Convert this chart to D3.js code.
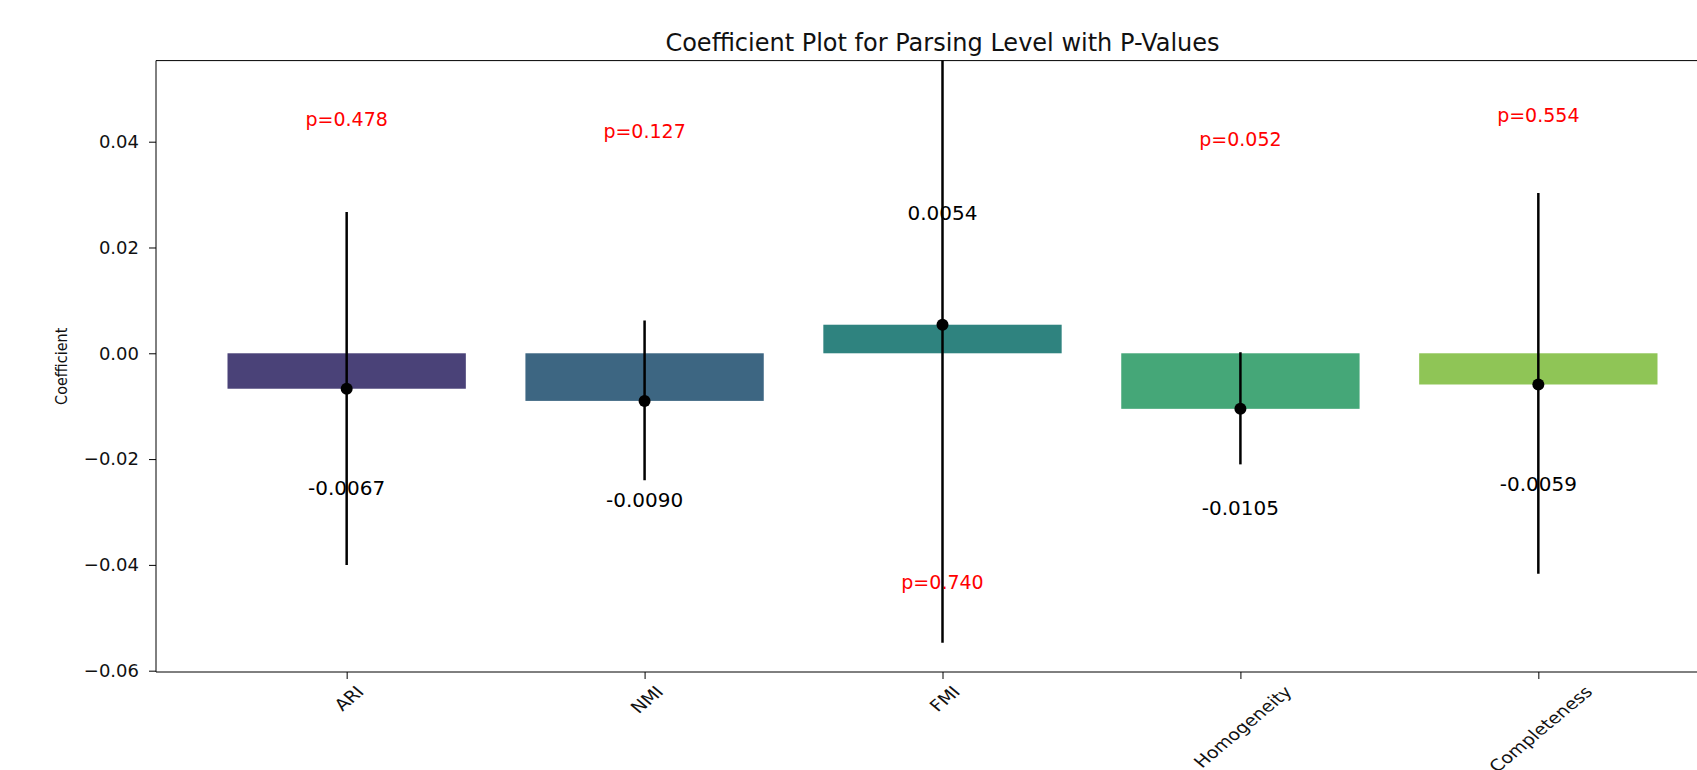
<!DOCTYPE html>
<html>
<head>
<meta charset="utf-8">
<script src="https://cdn.jsdelivr.net/npm/d3@7"></script>
<style>
  body { margin: 0; background: #fff; }
  text { font-family: "DejaVu Sans", sans-serif; }
</style>
</head>
<body>
<div id="chart"></div>
<script>
// values
var metrics = ["ARI", "NMI", "FMI", "Homogeneity", "Completeness"];
var coefs = [-0.0067, -0.0090, 0.0054, -0.0105, -0.0059];
var ciLow = [-0.0400, -0.0240, -0.0547, -0.0210, -0.0417];
var ciHigh = [0.0267, 0.0062, 0.0655, 0.0002, 0.0303];
var pvals = [0.478, 0.127, 0.740, 0.052, 0.554];
var yTicks = [-0.06, -0.04, -0.02, 0.00, 0.02, 0.04];
var colors = ["#4a4278", "#3d6682", "#2f837f", "#45a778", "#8fc556"];

var W = 1697, H = 770;
var mLeft = 156, mTop = 60.6, mBottom = 672, mRight = 1729;

var svg = d3.select("#chart").append("svg")
    .attr("width", W).attr("height", H);

// matplotlib style limits: bars are 0.8 wide, 5% margin
var x = d3.scaleLinear().domain([-0.64, 4.64]).range([mLeft, mRight]);
var y = d3.scaleLinear().domain([-0.06025, 0.05533]).range([mBottom, mTop]);

svg.append("clipPath").attr("id", "plot")
    .append("rect").attr("x", mLeft).attr("y", mTop)
    .attr("width", mRight - mLeft).attr("height", mBottom - mTop);

var plot = svg.append("g").attr("clip-path", "url(#plot)");

// bars
plot.selectAll("rect.bar").data(coefs).enter().append("rect")
    .attr("class", "bar")
    .attr("x", function (d, i) { return x(i - 0.4); })
    .attr("width", x(0.8) - x(0))
    .attr("y", function (d) { return y(Math.max(d, 0)); })
    .attr("height", function (d) { return Math.abs(y(d) - y(0)); })
    .attr("fill", function (d, i) { return colors[i]; });

// error bars
plot.selectAll("line.err").data(coefs).enter().append("line")
    .attr("class", "err")
    .attr("x1", function (d, i) { return x(i); })
    .attr("x2", function (d, i) { return x(i); })
    .attr("y1", function (d, i) { return y(ciLow[i]); })
    .attr("y2", function (d, i) { return y(ciHigh[i]); })
    .attr("stroke", "#000").attr("stroke-width", 2.5);

plot.selectAll("circle").data(coefs).enter().append("circle")
    .attr("cx", function (d, i) { return x(i); })
    .attr("cy", function (d) { return y(d); })
    .attr("r", 6).attr("fill", "#000");

// labels: coefficient and p-value, flipped for positive coefficients
svg.selectAll("text.coef").data(coefs).enter().append("text")
    .attr("class", "coef")
    .attr("x", function (d, i) { return x(i); })
    .attr("y", function (d) { return y(d > 0 ? d + 0.0211 : d - 0.0188); })
    .attr("text-anchor", "middle").attr("dominant-baseline", "central")
    .attr("font-size", 20).attr("fill", "#000")
    .text(function (d) { return d.toFixed(4); });

svg.selectAll("text.pv").data(pvals).enter().append("text")
    .attr("class", "pv")
    .attr("x", function (d, i) { return x(i); })
    .attr("y", function (d, i) {
        var c = coefs[i];
        return y(c > 0 ? c - 0.0487 : c + 0.051);
    })
    .attr("text-anchor", "middle").attr("dominant-baseline", "central")
    .attr("font-size", 19).attr("fill", "red")
    .text(function (d) { return "p=" + d.toFixed(3); });

// axes
var yAxis = svg.append("g").attr("transform", "translate(" + mLeft + ",0)")
    .call(d3.axisLeft(y).tickValues(yTicks).tickFormat(d3.format(".2f"))
        .tickSize(7).tickSizeOuter(0).tickPadding(10));
yAxis.select(".domain").remove();
yAxis.selectAll("text").attr("font-size", 18).attr("fill", "#111");

// the picture is a bit wider than tall, so rotated labels get stretched too
var xAxis = svg.append("g").attr("transform", "translate(0," + mBottom + ")")
    .call(d3.axisBottom(x).tickValues(d3.range(metrics.length))
        .tickFormat(function (i) { return metrics[i]; })
        .tickSize(7).tickSizeOuter(0));
xAxis.select(".domain").remove();
xAxis.selectAll("text").attr("font-size", 16).attr("fill", "#111")
    .attr("text-anchor", "middle").attr("dominant-baseline", "central")
    .attr("dy", null).attr("y", 0)
    .attr("transform", function () {
        var half = (this.getComputedTextLength() + 14) / (2 * Math.SQRT2);
        return "translate(2," + (12 + half) + ") scale(1.2,1) rotate(-45)";
    });

// spines (right one falls outside the picture)
svg.append("line").attr("x1", mLeft).attr("x2", mRight)
    .attr("y1", mTop).attr("y2", mTop).attr("stroke", "#000");
svg.append("line").attr("x1", mLeft).attr("x2", mRight)
    .attr("y1", mBottom).attr("y2", mBottom).attr("stroke", "#000");
svg.append("line").attr("x1", mLeft).attr("x2", mLeft)
    .attr("y1", mTop).attr("y2", mBottom).attr("stroke", "#000");

svg.append("text")
    .attr("x", (mLeft + mRight) / 2).attr("y", 51)
    .attr("text-anchor", "middle").attr("font-size", 24).attr("fill", "#111")
    .text("Coefficient Plot for Parsing Level with P-Values");

svg.append("text")
    .attr("transform", "translate(67," + (mTop + mBottom) / 2 + ") rotate(-90)")
    .attr("text-anchor", "middle").attr("font-size", 16).attr("fill", "#111")
    .style("font-family", "'DejaVu Sans Condensed', 'DejaVu Sans', sans-serif")
    .text("Coefficient");
</script>
</body>
</html>
